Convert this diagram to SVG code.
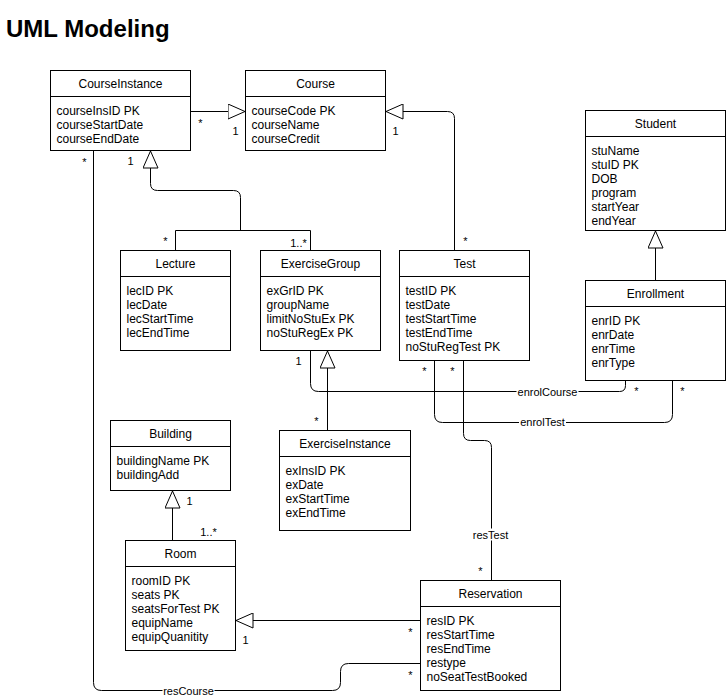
<svg xmlns="http://www.w3.org/2000/svg" width="726" height="697" viewBox="0 0 726 697">
<defs>
<style>
.box{fill:#fff;stroke:#000;stroke-width:1}
.sep{stroke:#000;stroke-width:1}
.t{font-family:"Liberation Sans",Arial,Helvetica,sans-serif;font-size:12px;fill:#000}
.c{text-anchor:middle}
.m{font-family:"Liberation Sans",Arial,Helvetica,sans-serif;font-size:11px;fill:#000;text-anchor:middle}
.el{font-family:"Liberation Sans",Arial,Helvetica,sans-serif;font-size:11px;fill:#000;text-anchor:middle}
.lb{fill:#fff;stroke:none}
.ln{fill:none;stroke:#000;stroke-width:1}
.gen{marker-end:url(#tri)}
</style>
<marker id="tri" viewBox="0 0 18 16" refX="18" refY="8" markerWidth="18" markerHeight="16" markerUnits="userSpaceOnUse" orient="auto">
<path d="M0.5,0.5 L17.5,8 L0.5,15.5 Z" fill="#fff" stroke="#000" stroke-width="1"/>
</marker>
</defs>
<rect x="0" y="0" width="726" height="697" fill="#fff"/>
<text x="6" y="37" style="font-family:'Liberation Sans',Arial,Helvetica,sans-serif;font-size:24px;font-weight:bold;fill:#000">UML Modeling</text>
<g transform="translate(0.5,0.5)">
<g id="connectors">
<path class="ln gen" d="M190,111 H245"/>
<path class="ln gen" d="M454,250 V118 Q454,111 447,111 H385"/>
<path class="ln" d="M175,250 V230 H310 V250"/>
<path class="ln gen" d="M240,230 V197 Q240,190 233,190 H157 Q150,190 150,183 V150"/>
<path class="ln gen" d="M327,430 V350"/>
<path class="ln gen" d="M655,280 V230"/>
<path class="ln gen" d="M172,540 V490"/>
<path class="ln gen" d="M420,620 H235"/>
<path class="ln" d="M93,150 V682 Q93,690 101,690 H332 Q340,690 340,682 V671 Q340,663 348,663 H420"/>
<path class="ln" d="M310,350 V383 Q310,391 318,391 H619 Q625,391 625,385 V380"/>
<path class="ln" d="M434,360 V414 Q434,422 442,422 H664 Q672,422 672,414 V380"/>
<path class="ln" d="M463,360 V433 Q463,440 470,440 H484 Q491,440 491,447 V580"/>
<rect class="lb" x="516" y="385" width="62" height="12"/>
<text class="el" x="547" y="395">enrolCourse</text>
<rect class="lb" x="518.5" y="416" width="47" height="12"/>
<text class="el" x="542" y="425.5">enrolTest</text>
<rect class="lb" x="471.5" y="528" width="37" height="12"/>
<text class="el" x="490" y="538">resTest</text>
<rect class="lb" x="162" y="684" width="52" height="12"/>
<text class="el" x="188" y="694">resCourse</text>
<text class="m" x="200" y="126">*</text>
<text class="m" x="235" y="134">1</text>
<text class="m" x="395" y="134">1</text>
<text class="m" x="84" y="165">*</text>
<text class="m" x="130" y="164">1</text>
<text class="m" x="165" y="244">*</text>
<text class="m" x="298" y="246">1..*</text>
<text class="m" x="465" y="244.5">*</text>
<text class="m" x="424" y="374.5">*</text>
<text class="m" x="452" y="374.5">*</text>
<text class="m" x="298" y="364">1</text>
<text class="m" x="316" y="424.5">*</text>
<text class="m" x="636" y="394.5">*</text>
<text class="m" x="682" y="394.5">*</text>
<text class="m" x="189" y="504">1</text>
<text class="m" x="208" y="535.5">1..*</text>
<text class="m" x="245" y="643">1</text>
<text class="m" x="410" y="635">*</text>
<text class="m" x="410" y="678.5">*</text>
<text class="m" x="480" y="574.5">*</text>
</g>
<g id="CourseInstance">
<rect class="box" x="50" y="70" width="140" height="80"/>
<line class="sep" x1="50" y1="96" x2="190" y2="96"/>
<text class="t c" x="120" y="87.5">CourseInstance</text>
<text class="t" x="56" y="114">courseInsID PK</text>
<text class="t" x="56" y="128">courseStartDate</text>
<text class="t" x="56" y="142">courseEndDate</text>
</g>
<g id="Course">
<rect class="box" x="245" y="70" width="140" height="80"/>
<line class="sep" x1="245" y1="96" x2="385" y2="96"/>
<text class="t c" x="315" y="87.5">Course</text>
<text class="t" x="251" y="114">courseCode PK</text>
<text class="t" x="251" y="128">courseName</text>
<text class="t" x="251" y="142">courseCredit</text>
</g>
<g id="Student">
<rect class="box" x="585" y="110" width="140" height="120"/>
<line class="sep" x1="585" y1="136" x2="725" y2="136"/>
<text class="t c" x="655" y="127.5">Student</text>
<text class="t" x="591" y="154">stuName</text>
<text class="t" x="591" y="168">stuID PK</text>
<text class="t" x="591" y="182">DOB</text>
<text class="t" x="591" y="196">program</text>
<text class="t" x="591" y="210">startYear</text>
<text class="t" x="591" y="224">endYear</text>
</g>
<g id="Lecture">
<rect class="box" x="120" y="250" width="110" height="100"/>
<line class="sep" x1="120" y1="276" x2="230" y2="276"/>
<text class="t c" x="175" y="267.5">Lecture</text>
<text class="t" x="126" y="294">lecID PK</text>
<text class="t" x="126" y="308">lecDate</text>
<text class="t" x="126" y="322">lecStartTime</text>
<text class="t" x="126" y="336">lecEndTime</text>
</g>
<g id="ExerciseGroup">
<rect class="box" x="260" y="250" width="120" height="100"/>
<line class="sep" x1="260" y1="276" x2="380" y2="276"/>
<text class="t c" x="320" y="267.5">ExerciseGroup</text>
<text class="t" x="266" y="294">exGrID PK</text>
<text class="t" x="266" y="308">groupName</text>
<text class="t" x="266" y="322">limitNoStuEx PK</text>
<text class="t" x="266" y="336">noStuRegEx PK</text>
</g>
<g id="Test">
<rect class="box" x="399" y="250" width="130" height="110"/>
<line class="sep" x1="399" y1="276" x2="529" y2="276"/>
<text class="t c" x="464" y="267.5">Test</text>
<text class="t" x="405" y="294">testID PK</text>
<text class="t" x="405" y="308">testDate</text>
<text class="t" x="405" y="322">testStartTime</text>
<text class="t" x="405" y="336">testEndTime</text>
<text class="t" x="405" y="350">noStuRegTest PK</text>
</g>
<g id="Enrollment">
<rect class="box" x="585" y="280" width="140" height="100"/>
<line class="sep" x1="585" y1="306" x2="725" y2="306"/>
<text class="t c" x="655" y="297.5">Enrollment</text>
<text class="t" x="591" y="324">enrID PK</text>
<text class="t" x="591" y="338">enrDate</text>
<text class="t" x="591" y="352">enrTime</text>
<text class="t" x="591" y="366">enrType</text>
</g>
<g id="Building">
<rect class="box" x="110" y="420" width="120" height="70"/>
<line class="sep" x1="110" y1="446" x2="230" y2="446"/>
<text class="t c" x="170" y="437.5">Building</text>
<text class="t" x="116" y="464">buildingName PK</text>
<text class="t" x="116" y="478">buildingAdd</text>
</g>
<g id="ExerciseInstance">
<rect class="box" x="279" y="430" width="131" height="100"/>
<line class="sep" x1="279" y1="456" x2="410" y2="456"/>
<text class="t c" x="344.5" y="447.5">ExerciseInstance</text>
<text class="t" x="285" y="474">exInsID PK</text>
<text class="t" x="285" y="488">exDate</text>
<text class="t" x="285" y="502">exStartTime</text>
<text class="t" x="285" y="516">exEndTime</text>
</g>
<g id="Room">
<rect class="box" x="125" y="540" width="110" height="110"/>
<line class="sep" x1="125" y1="566" x2="235" y2="566"/>
<text class="t c" x="180" y="557.5">Room</text>
<text class="t" x="131" y="584">roomID PK</text>
<text class="t" x="131" y="598">seats PK</text>
<text class="t" x="131" y="612">seatsForTest PK</text>
<text class="t" x="131" y="626">equipName</text>
<text class="t" x="131" y="640">equipQuanitity</text>
</g>
<g id="Reservation">
<rect class="box" x="420" y="580" width="140" height="110"/>
<line class="sep" x1="420" y1="606" x2="560" y2="606"/>
<text class="t c" x="490" y="597.5">Reservation</text>
<text class="t" x="426" y="624">resID PK</text>
<text class="t" x="426" y="638">resStartTime</text>
<text class="t" x="426" y="652">resEndTime</text>
<text class="t" x="426" y="666">restype</text>
<text class="t" x="426" y="680">noSeatTestBooked</text>
</g>
</g>
</svg>
